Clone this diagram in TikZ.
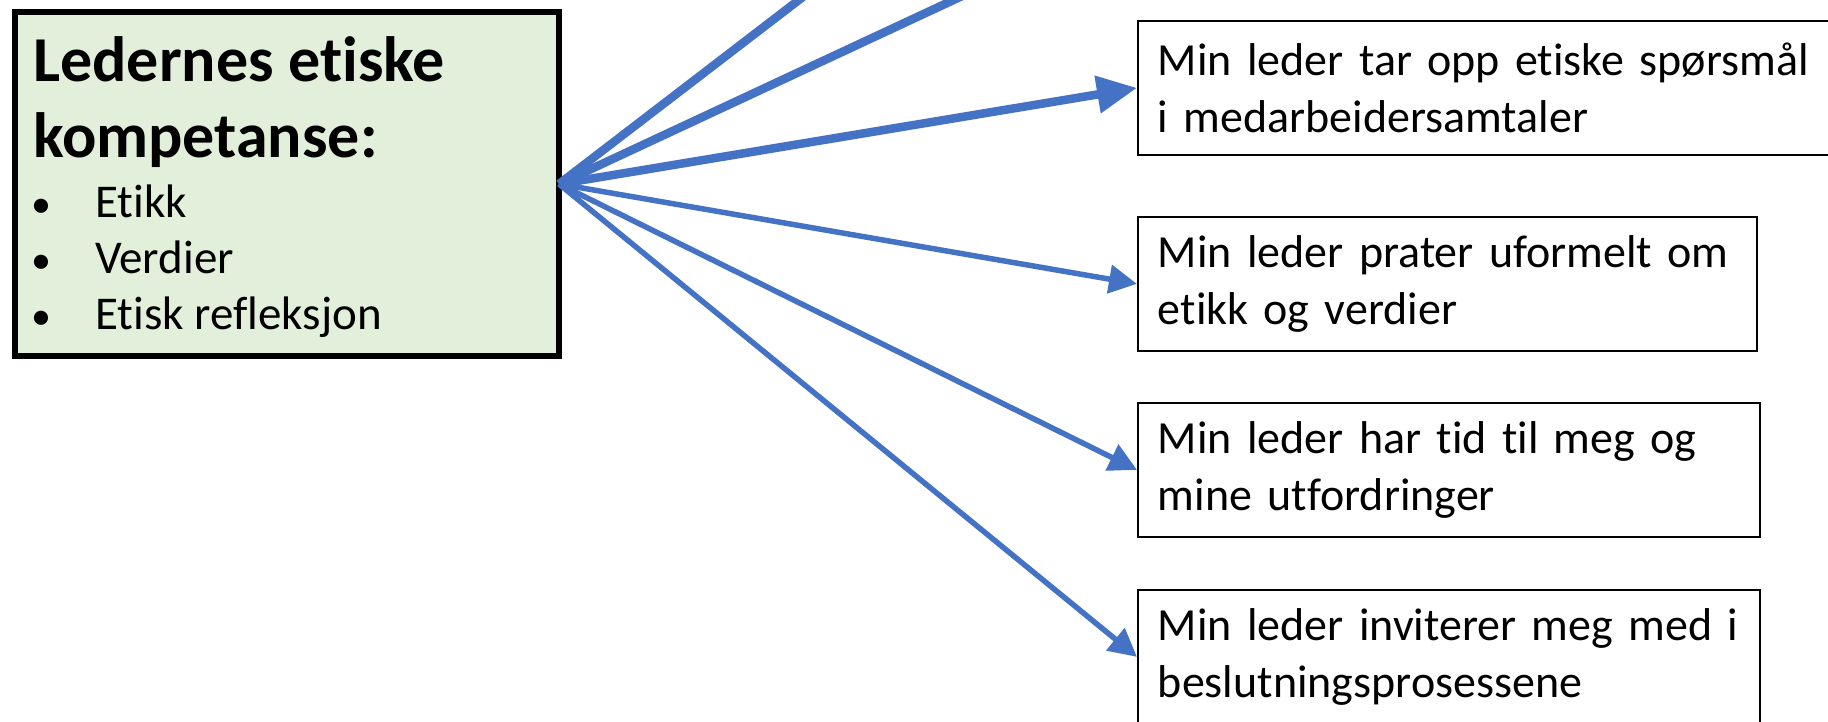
\documentclass[tikz,border=0pt]{standalone}
\usepackage{fontspec}
\setmainfont{Carlito}[Ligatures={NoCommon}]
\usetikzlibrary{arrows.meta}
\definecolor{arrowblue}{HTML}{4472C4}
\definecolor{boxgreen}{HTML}{E2EFDA}
\begin{document}
\begin{tikzpicture}[x=1pt,y=1pt,
  greenbox/.style={draw=black, line width=6pt, fill=boxgreen, inner sep=0pt, outer sep=0pt, anchor=north west},
  itembox/.style={draw=black, line width=1.8pt, anchor=north west, minimum height=134pt, inner xsep=20pt, inner ysep=0pt, align=left, font=\fontsize{46}{57}\selectfont},
  titletext/.style={anchor=base west, inner sep=0pt, font=\fontsize{64}{75}\selectfont\bfseries},
  bullettext/.style={anchor=base west, inner sep=0pt, font=\fontsize{47}{54}\selectfont},
  thickarrow/.style={draw=arrowblue, line width=8.5pt, -{Triangle[length=40pt,width=36pt]}},
  thinarrow/.style={draw=arrowblue, line width=5.5pt, -{Triangle[length=28pt,width=28pt]}},
  thickline/.style={draw=arrowblue, line width=8.5pt},
]
\useasboundingbox (0,-722) rectangle (1828,0);
\clip (0,-722) rectangle (1828,0);

\node[greenbox, minimum width=544pt, minimum height=344pt] (lead) at (15,-12) {};
\node[titletext] (title1) at (33,-82) {Ledernes etiske};
\node[titletext] (title2) at (33,-158) {kompetanse:};
\node[bullettext] (b1) at (31,-218) {\makebox[64pt][l]{\fontsize{40}{40}\selectfont •}Etikk};
\node[bullettext] (b2) at (31,-273) {\makebox[64pt][l]{\fontsize{40}{40}\selectfont •}Verdier};
\node[bullettext] (b3) at (31,-329) {\makebox[64pt][l]{\fontsize{40}{40}\selectfont •}Etisk refleksjon};

\node[itembox, text width=700pt] (box1) at (1137,-20) {\mbox{Min leder tar opp etiske spørsmål}\\\mbox{i medarbeidersamtaler}};
\node[itembox, text width=579pt] (box2) at (1137,-216) {\mbox{Min leder prater uformelt om}\\\mbox{etikk og verdier}};
\node[itembox, text width=582pt] (box3) at (1137,-402) {\mbox{Min leder har tid til meg og}\\\mbox{mine utfordringer}};
\node[itembox, text width=582pt] (box4) at (1137,-589) {\mbox{Min leder inviterer meg med i}\\\mbox{beslutningsprosessene}};

\coordinate (offA) at (1190,300);
\coordinate (offB) at (1168,100);

\draw[thickline] (lead.east) -- (offA);
\draw[thickline] (lead.east) -- (offB);
\draw[thickarrow] (lead.east) -- (box1.west);
\draw[thinarrow] (lead.east) -- (box2.west);
\draw[thinarrow] (lead.east) -- (box3.west);
\draw[thinarrow] (lead.east) -- (box4.west);
\end{tikzpicture}
\end{document}
